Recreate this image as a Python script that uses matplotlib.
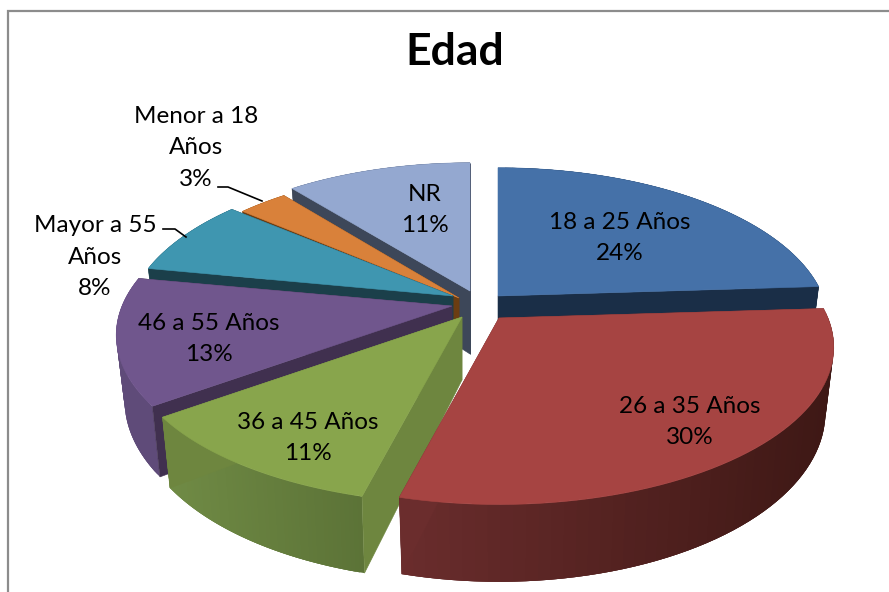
import numpy as np
import matplotlib
matplotlib.use("Agg")
import matplotlib.pyplot as plt
from matplotlib.colors import to_rgb

# data, clockwise from 12 o'clock
categories = ["18 a 25 Años", "26 a 35 Años", "36 a 45 Años", "46 a 55 Años",
              "Mayor a 55 Años", "Menor a 18 Años", "NR"]
values = [24, 30, 11, 13, 8, 3, 11]
label_text = ["18 a 25 Años\n24%", "26 a 35 Años\n30%", "36 a 45 Años\n11%",
              "46 a 55 Años\n13%", "Mayor a 55\nAños\n8%", "Menor a 18\nAños\n3%",
              "NR\n11%"]

# layout: slice apex and width on screen, label centres
apex = [(498, 296), (499, 318), (462, 317), (452, 306), (453, 296), (459, 298), (470, 291)]
rad_x = [325, 329, 330, 330, 321, 314, 319]
label_pos = [(620, 238), (690, 422), (308, 438), (209, 339), (95, 257), (196, 148), (425, 210)]

top_col = ["#4571A8", "#A64442", "#88A54C", "#70568D", "#3F96B0", "#D9813A", "#94A8D0"]
side_col = ["#1A2E47", "#6B2D2D", "#6E863F", "#40304F", "#1B3F4A", "#6B3D12", "#3D4759"]
wall_left = ["#1A2E47", "#6B2D2D", "#708B45", "#5F4B79", "#1B3F4A", "#6B3D12", "#3D4759"]
wall_right = ["#1A2E47", "#3E1815", "#5C7337", "#5F4B79", "#1B3F4A", "#6B3D12", "#3D4759"]

RAD_Y = 152
PERSP = 0.185
DEPTH = 63
SHRINK = 0.975


def top_pt(i, theta):
    # perspective view of the unit circle, front looks bigger
    X = np.sin(theta)
    Y = -np.cos(theta)
    w = 1 - PERSP * Y
    return apex[i][0] + rad_x[i] * X / w, apex[i][1] + RAD_Y * Y / w


def low_pt(i, theta):
    x, y = top_pt(i, theta)
    Y = -np.cos(theta)
    return apex[i][0] + (x - apex[i][0]) * SHRINK, y + DEPTH / (1 - PERSP * Y)


plt.rcParams["font.family"] = ["Lato", "DejaVu Sans"]
fig = plt.figure(figsize=(8.89, 5.92), dpi=100)
ax = fig.add_axes([0, 0, 1, 1])
ax.set_xlim(0, 889)
ax.set_ylim(592, 0)
ax.axis("off")

# chart frame
ax.plot([8, 8, 889], [592, 11, 11], color="#8C8C8C", lw=1.6, solid_joinstyle="miter")

edges = np.deg2rad(np.concatenate([[0], np.cumsum(values)]) * 3.6)
order = [6, 5, 4, 3, 2, 0, 1]

for z, i in enumerate(order):
    t0, t1 = edges[i], edges[i + 1]
    th = np.linspace(t0, t1, 60)
    tx, ty = top_pt(i, th)
    bx, by = low_pt(i, th)
    ax0, ay0 = apex[i]
    zo = 2 + z

    # outer wall, shaded in strips that overlap so no seams show
    c_l = np.array(to_rgb(wall_left[i]))
    c_r = np.array(to_rgb(wall_right[i]))
    span = max(tx.max() - tx.min(), 1)
    for j in range(len(th) - 1):
        k = min(j + 3, len(th) - 1)
        f = (tx[j] - tx.min()) / span
        ax.fill(np.r_[tx[j:k + 1], bx[j:k + 1][::-1]],
                np.r_[ty[j:k + 1], by[j:k + 1][::-1]],
                color=c_l + (c_r - c_l) * f, lw=0, zorder=zo)

    # radial walls
    for t in (t0, t1):
        x, y = top_pt(i, t)
        lx, ly = low_pt(i, t)
        ax.fill([ax0, x, lx, ax0], [ay0, y, ly, ay0 + DEPTH],
                color=side_col[i], lw=0.4, zorder=zo)

    # top face
    ax.fill(np.r_[ax0, tx], np.r_[ay0, ty], color=top_col[i], lw=0.4, zorder=zo)

# leader lines
ax.plot([218, 228, 262], [187, 187, 201], color="black", lw=1.2, zorder=20)
ax.plot([163, 175, 186], [229, 229, 237], color="black", lw=1.2, zorder=20)

for txt, (lx, ly) in zip(label_text, label_pos):
    ax.text(lx, ly, txt, ha="center", va="center", fontsize=17.5, color="black",
            linespacing=1.6, zorder=30)

ax.text(455, 52, "Edad", ha="center", va="center", fontsize=32, fontweight="bold",
        color="black", zorder=30)

fig.savefig("out.png", dpi=100)
